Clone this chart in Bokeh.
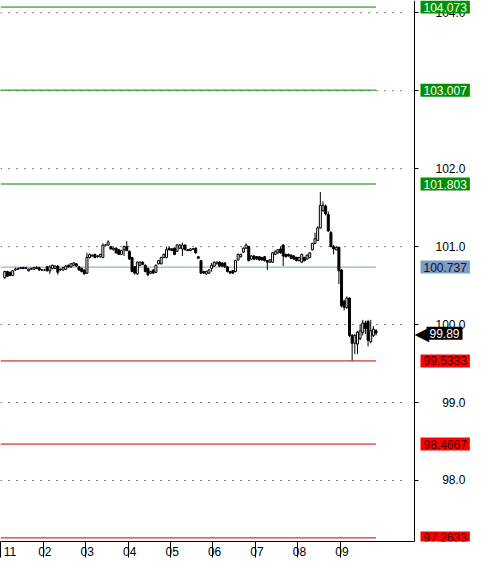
from bokeh.plotting import figure
from bokeh.models import ColumnDataSource, FixedTicker, Range1d, Label, LinearAxis
from bokeh.embed import file_html
from bokeh.resources import INLINE

# ---- candle data (index = bar number) ----
opens = [100.60,100.68,100.67,100.63,100.70,100.71,100.72,100.73,100.72,100.69,
         100.71,100.71,100.73,100.73,100.70,100.70,100.74,100.69,100.72,100.72,
         100.75,100.70,100.70,100.71,100.76,100.74,100.76,100.78,100.74,100.72,
         100.70,100.66,100.86,100.88,100.90,100.87,100.87,100.86,101.02,101.02,
         101.00,100.96,100.98,100.96,100.90,100.96,101.00,100.94,100.86,100.74,
         100.65,100.76,100.80,100.76,100.72,100.66,100.70,100.67,100.78,100.78,
         100.86,100.86,100.98,100.97,100.98,100.94,100.98,100.97,101.02,100.96,
         100.95,100.97,100.98,100.87,100.82,100.68,100.65,100.66,100.72,100.75,
         100.78,100.80,100.79,100.79,100.74,100.68,100.69,100.68,100.83,100.87,
         100.93,100.98,101.00,100.84,100.88,100.87,100.87,100.86,100.87,100.82,
         100.80,100.80,100.90,100.92,100.97,101.02,100.90,100.90,100.89,100.88,
         100.86,100.82,100.80,100.86,100.84,100.86,100.96,101.04,101.08,101.24,
         101.46,101.52,101.41,101.18,101.00,100.96,100.99,100.70,100.30,100.22,
         100.34,99.86,99.76,99.75,99.82,99.90,100.02,100.04,99.78,99.86,99.92]
highs = [100.69,100.69,100.68,100.70,100.73,100.73,100.74,100.74,100.74,100.72,
         100.73,100.74,100.75,100.74,100.71,100.71,100.75,100.76,100.77,100.76,
         100.76,100.72,100.74,100.76,100.77,100.79,100.80,100.79,100.75,100.73,
         100.71,100.92,100.91,100.90,100.91,100.89,100.91,101.04,101.03,101.08,
         101.01,100.99,100.99,100.97,100.96,101.01,101.07,100.95,100.87,100.75,
         100.81,100.81,100.81,100.77,100.73,100.69,100.71,100.77,100.83,100.87,
         100.91,101.00,100.99,100.98,100.99,101.03,101.03,101.05,101.03,100.97,
         100.98,100.98,100.99,100.88,100.83,100.69,100.69,100.71,100.79,100.81,
         100.81,100.81,100.80,100.80,100.75,100.69,100.70,100.83,100.91,100.91,
         100.99,101.04,101.01,100.89,100.89,100.88,100.88,100.87,100.88,100.83,
         100.84,100.93,100.95,100.97,101.00,101.03,100.91,100.91,100.90,100.89,
         100.87,100.87,100.91,100.87,100.90,100.93,101.05,101.18,101.26,101.70,
         101.58,101.54,101.45,101.20,101.02,101.00,101.00,100.71,100.32,100.36,
         100.35,99.88,99.88,99.92,100.00,100.06,100.05,100.06,100.06,99.98,99.94]
lows = [100.59,100.61,100.62,100.62,100.69,100.70,100.71,100.71,100.71,100.68,
        100.70,100.70,100.71,100.69,100.69,100.69,100.68,100.65,100.71,100.71,
        100.64,100.69,100.69,100.70,100.73,100.73,100.75,100.74,100.69,100.67,
        100.64,100.65,100.85,100.87,100.85,100.86,100.86,100.85,101.01,101.01,
        100.96,100.95,100.91,100.89,100.89,100.88,100.94,100.83,100.67,100.64,
        100.64,100.75,100.76,100.67,100.62,100.65,100.65,100.66,100.77,100.77,
        100.85,100.85,100.95,100.94,100.89,100.93,100.97,100.88,100.95,100.94,
        100.94,100.96,100.91,100.84,100.65,100.65,100.64,100.65,100.68,100.74,
        100.77,100.74,100.74,100.73,100.67,100.65,100.65,100.67,100.82,100.86,
        100.92,100.97,100.81,100.83,100.83,100.83,100.82,100.82,100.81,100.70,
        100.79,100.79,100.89,100.91,100.91,100.75,100.86,100.87,100.84,100.83,
        100.81,100.81,100.79,100.81,100.83,100.85,100.95,101.03,101.07,101.23,
        101.45,101.40,101.19,100.99,100.90,100.95,100.52,100.22,100.18,100.20,
        99.84,99.54,99.62,99.62,99.80,99.86,99.88,99.72,99.76,99.84,99.86]
closes = [100.68,100.62,100.63,100.69,100.71,100.72,100.73,100.72,100.73,100.71,
          100.72,100.73,100.72,100.70,100.70,100.70,100.69,100.74,100.76,100.75,
          100.67,100.71,100.73,100.75,100.74,100.78,100.79,100.75,100.70,100.68,
          100.65,100.86,100.90,100.89,100.86,100.88,100.90,101.02,101.02,101.06,
          100.97,100.98,100.92,100.90,100.95,101.00,100.95,100.84,100.68,100.66,
          100.80,100.80,100.77,100.68,100.64,100.68,100.66,100.76,100.82,100.86,
          100.90,100.96,100.96,100.95,100.90,101.02,101.02,101.02,100.96,100.95,
          100.97,100.97,100.92,100.85,100.66,100.66,100.68,100.70,100.76,100.80,
          100.80,100.75,100.75,100.74,100.68,100.66,100.66,100.82,100.90,100.90,
          100.98,101.02,100.82,100.88,100.84,100.84,100.83,100.83,100.82,100.80,
          100.83,100.92,100.94,100.96,100.92,100.88,100.87,100.88,100.85,100.84,
          100.82,100.86,100.90,100.82,100.89,100.92,101.04,101.10,101.24,101.53,
          101.53,101.42,101.20,101.00,100.97,100.99,100.69,100.24,100.22,100.34,
          99.86,99.76,99.86,99.90,99.92,100.02,99.95,99.80,99.92,99.94,99.89]

# session boundaries (bar index) and their labels
day_starts = [-1.5, 14.5, 30.5, 46.5, 62.5, 78.5, 94.5, 110.5, 126.5]
day_labels = ["11", "02", "03", "04", "05", "06", "07", "08", "09"]

# price axis ticks
y_ticks = [98.0, 99.0, 100.0, 101.0, 102.0, 103.0, 104.0]

# pivot levels
level_values = [104.073, 103.007, 101.803, 100.737, 99.5333, 98.4667, 97.2633]
level_kinds = ["res", "res", "res", "pivot", "sup", "sup", "sup"]
last_price = 99.89

line_col = {"res": "#008000", "pivot": "#7f9fbf", "sup": "#c80000"}
box_col = {"res": "#009000", "pivot": "#7f9dc4", "sup": "#ff0000"}
txt_col = {"res": "white", "pivot": "#0a1430", "sup": "#3a0000"}

FONT = "Liberation Sans"
FW, FH = 474, 541          # frame covers the chart and the price-label strip
AXIS_PX = 414              # where the price axis sits inside the frame
Y0, Y1 = 97.217, 104.157
x_lo = -1.6
px_per_bar = 2.652
x_axis = x_lo + AXIS_PX / px_per_bar
x_hi = x_lo + FW / px_per_bar

n = len(closes)
idx = list(range(n))

src = ColumnDataSource(dict(
    x=idx, high=highs, low=lows,
    top=[max(o, c) for o, c in zip(opens, closes)],
    bottom=[min(o, c) for o, c in zip(opens, closes)],
    fill=["white" if c >= o else "black" for o, c in zip(opens, closes)],
))

p = figure(frame_width=FW, frame_height=FH, x_range=Range1d(x_lo, x_hi),
           y_range=Range1d(Y0, Y1),
           output_backend="svg", toolbar_location=None,
           y_axis_location=None,
           min_border_left=0, min_border_top=0,
           min_border_right=0, min_border_bottom=0)
p.outline_line_color = None
p.background_fill_color = "white"
p.xgrid.visible = False
p.ygrid.visible = False

# dotted price grid, stopping short of the price axis
p.segment(x0=[x_lo] * len(y_ticks), x1=[x_axis - 2.5] * len(y_ticks), y0=y_ticks, y1=y_ticks,
          line_color="black", line_dash="1 7", line_width=1)

# price axis, drawn at a fixed place inside the frame
ya = LinearAxis(fixed_location=x_axis, ticker=FixedTicker(ticks=y_ticks))
ya.major_label_overrides = {t: ("\u2007" if t < 100 else "") + f"{t:.1f}" for t in y_ticks}
ya.axis_line_color = "black"
ya.major_tick_out = 4
ya.major_tick_in = 0
ya.minor_tick_out = 0
ya.minor_tick_in = 0
ya.major_label_standoff = 17
ya.major_label_text_font = FONT
ya.major_label_text_font_size = "12px"
ya.major_label_text_color = "black"
p.add_layout(ya, "right")

# time axis (bottom)
xa = p.xaxis[0]
xa.ticker = FixedTicker(ticks=day_starts)
xa.bounds = (x_lo, x_axis)
xa.major_label_overrides = {t: "\u00a0" + l for t, l in zip(day_starts, day_labels)}
xa.axis_line_color = "black"
xa.major_tick_out = 16
xa.major_tick_in = 0
xa.minor_tick_out = 0
xa.minor_tick_in = 0
xa.major_label_standoff = -13
xa.major_label_text_align = "left"
xa.major_label_text_font = FONT
xa.major_label_text_font_size = "12px"
xa.major_label_text_color = "black"

# level lines
p.segment(x0=[x_lo] * len(level_values), x1=[n - 1] * len(level_values),
          y0=level_values, y1=level_values,
          line_color=[line_col[k] for k in level_kinds], line_width=1)

# candles
p.segment(x0="x", x1="x", y0="high", y1="low", source=src, line_color="black", line_width=1)
p.vbar(x="x", top="top", bottom="bottom", width=0.75, fill_color="fill",
       line_color="black", line_width=1, source=src)

# level labels in the price-axis strip
for v, k in zip(level_values, level_kinds):
    p.add_layout(Label(x=AXIS_PX + 6, x_units="screen", y=v, y_units="data",
                       text=f"{v:.6g}", text_font=FONT, text_font_size="12px",
                       text_color=txt_col[k], text_baseline="middle", text_align="left",
                       background_fill_color=box_col[k], padding=(3, 2)))

# last price marker
p.add_layout(Label(x=AXIS_PX, x_units="screen", y=last_price, y_units="data",
                   text="\u25C0", text_font="DejaVu Sans", text_font_size="19px",
                   text_color="black", text_baseline="middle", text_align="left"))
p.add_layout(Label(x=AXIS_PX + 12, x_units="screen", y=last_price, y_units="data",
                   text=f"{last_price:.2f}", text_font=FONT, text_font_size="12px",
                   text_color="white", text_baseline="middle", text_align="left",
                   background_fill_color="black", padding=(3, 2)))

open("out.html", "w").write(file_html(p, INLINE))
